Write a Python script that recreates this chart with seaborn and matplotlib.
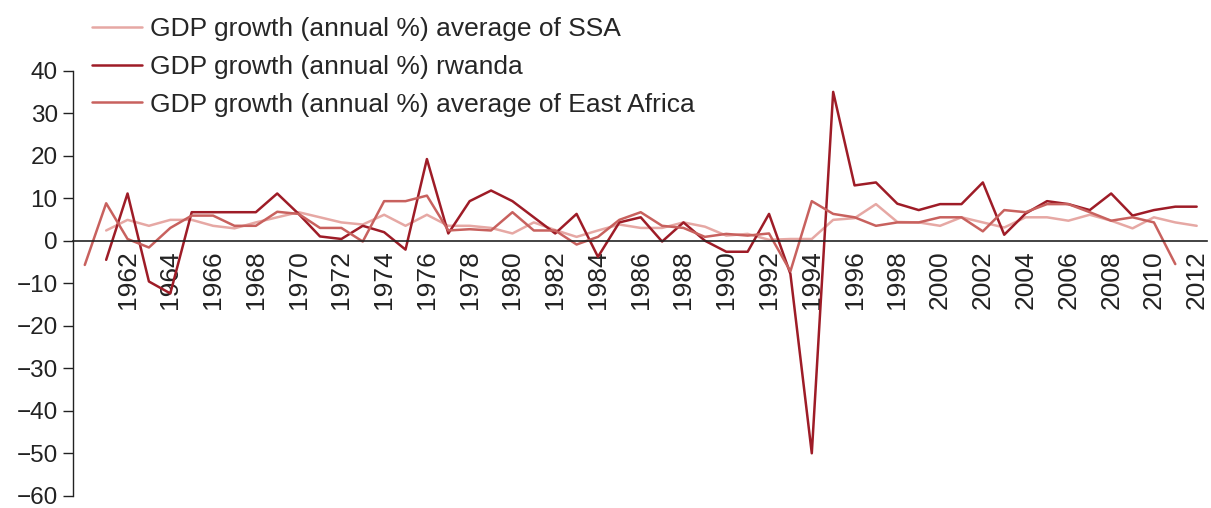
import matplotlib
matplotlib.use("Agg")
import matplotlib.pyplot as plt
import seaborn as sns
import pandas as pd
import numpy as np

years_ssa = list(range(1961, 2013))
ssa = [2.4, 4.9, 3.5, 4.9, 4.9, 3.5, 2.9, 4.3, 5.5, 6.7,
       5.5, 4.3, 3.8, 6.1, 3.5, 6.1, 3.5, 3.5, 3.0, 1.7,
       4.3, 2.5, 0.9, 2.4, 3.8, 3.0, 3.0, 4.3, 3.3, 1.2,
       1.6, 0.2, 0.4, 0.4, 4.9, 5.3, 8.6, 4.4, 4.3, 3.5,
       5.5, 4.3, 3.1, 5.5, 5.5, 4.7, 6.1, 4.7, 2.9, 5.5,
       4.3, 3.5]

years_rw = list(range(1961, 2013))
rwanda = [-4.5, 11.1, -9.6, -12.4, 6.7, 6.7, 6.7, 6.7, 11.1, 6.3,
          1.0, 0.4, 3.5, 2.0, -2.1, 19.2, 1.7, 9.3, 11.8, 9.3,
          5.5, 1.7, 6.3, -3.8, 4.3, 5.5, -0.2, 4.3, 0.0, -2.6,
          -2.6, 6.3, -7.8, -50.0, 35.0, 13.0, 13.7, 8.7, 7.2, 8.6,
          8.6, 13.7, 1.4, 6.4, 9.3, 8.6, 7.2, 11.1, 5.9, 7.2,
          8.0, 8.0]

years_ea = list(range(1960, 2012))
east_africa = [-5.7, 8.8, 0.4, -1.6, 3.0, 5.9, 5.9, 3.5, 3.5, 6.8,
               6.3, 3.0, 3.0, -0.2, 9.3, 9.3, 10.6, 2.4, 2.7, 2.4,
               6.7, 2.4, 2.4, -0.9, 0.9, 4.9, 6.7, 3.5, 3.0, 0.9,
               1.6, 1.2, 1.7, -7.2, 9.3, 6.3, 5.5, 3.5, 4.3, 4.3,
               5.5, 5.5, 2.2, 7.2, 6.7, 8.6, 8.6, 6.7, 4.7, 5.5,
               4.3, -5.5]

series_names = ["GDP growth (annual %) average of SSA",
                "GDP growth (annual %) rwanda",
                "GDP growth (annual %) average of East Africa"]
colors = ["#E6A8A4", "#9E1C27", "#C8615E"]
xtick_years = list(range(1962, 2013, 2))
yticks = list(range(-60, 41, 10))

df = pd.concat([
    pd.DataFrame({"year": years_ssa, "value": ssa, "series": series_names[0]}),
    pd.DataFrame({"year": years_rw, "value": rwanda, "series": series_names[1]}),
    pd.DataFrame({"year": years_ea, "value": east_africa, "series": series_names[2]}),
], ignore_index=True)

sns.set_theme(style="white")
plt.rcParams["font.family"] = ["Liberation Sans", "DejaVu Sans"]

fig = plt.figure(figsize=(12.11, 5.08), dpi=100)
ax = fig.add_axes([0.0603, 0.024, 0.9367, 0.837])

sns.lineplot(data=df, x="year", y="value", hue="series",
             hue_order=series_names, palette=dict(zip(series_names, colors)),
             linewidth=1.8, ax=ax, legend=True)

for s in ["top", "right"]:
    ax.spines[s].set_visible(False)
ax.spines["bottom"].set_position(("data", 0))
ax.spines["bottom"].set_color("#222222")
ax.spines["bottom"].set_linewidth(1.2)
ax.spines["left"].set_color("#222222")
ax.spines["left"].set_linewidth(1.0)
ax.grid(False)

ax.set_xlim(1959.45, 2012.5)
ax.set_ylim(-60, 40)
ax.set_yticks(yticks)
ax.set_xticks(xtick_years)
ax.set_xticklabels([str(y) for y in xtick_years], rotation=90, fontsize=19,
                   color="#222222")
ax.tick_params(axis="x", length=0, pad=7)
ax.tick_params(axis="y", direction="out", length=7, width=1, labelsize=17.5,
               left=True, colors="#222222", pad=4)
ax.set_xlabel("")
ax.set_ylabel("")

handles, labels = ax.get_legend_handles_labels()
ax.legend(handles, labels, loc="upper left", bbox_to_anchor=(0.062, 1.0),
          bbox_transform=fig.transFigure, frameon=False, fontsize=19,
          handlelength=1.9, handletextpad=0.28, labelspacing=0.52,
          borderpad=0.15)

fig.savefig("out.png", dpi=100)
